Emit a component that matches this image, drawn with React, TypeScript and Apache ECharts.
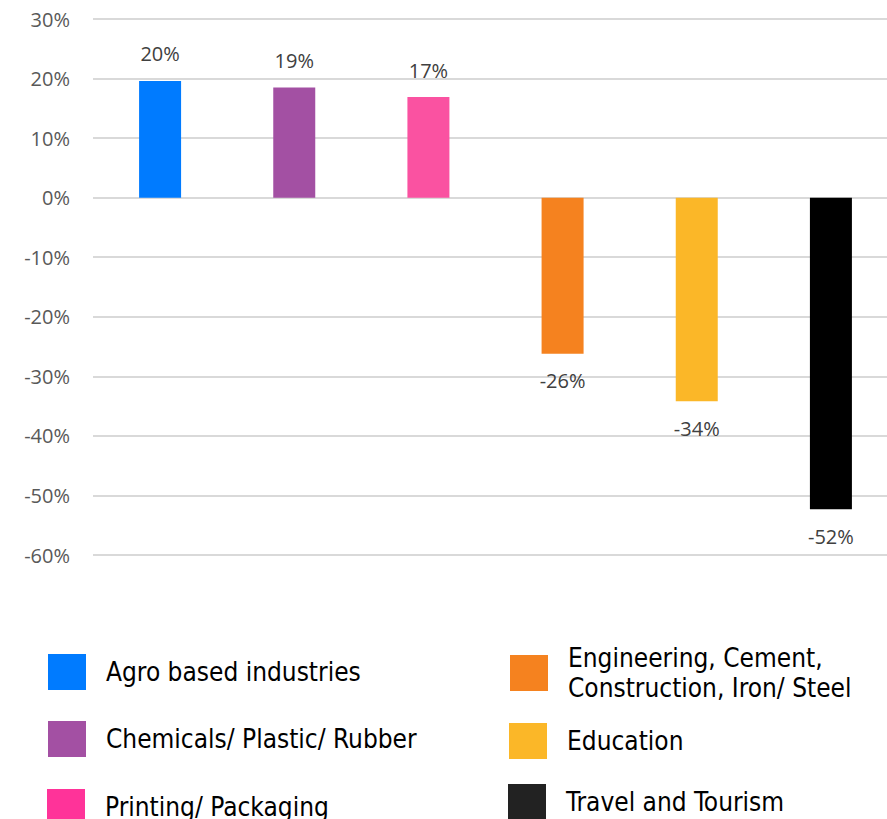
import React, { useEffect, useRef } from "react";
import * as echarts from "echarts";

const categories = [
  "Agro based industries",
  "Chemicals/ Plastic/ Rubber",
  "Printing/ Packaging",
  "Engineering, Cement,\nConstruction, Iron/ Steel",
  "Education",
  "Travel and Tourism",
];
const values = [19.6, 18.5, 16.9, -26.2, -34.2, -52.3];
const barColors = ["#007BFF", "#A350A3", "#FA52A1", "#F5821F", "#FBB728", "#000000"];
const legendColors = ["#007BFF", "#A350A3", "#FF3399", "#F5821F", "#FBB728", "#222222"];
const yTicks = { min: -60, max: 30, interval: 10 };

// legend item placement (icon top-left) and text lift
const legendPos = [
  { left: 48, top: 654, lift: 0 },
  { left: 48, top: 720, lift: 4 },
  { left: 47, top: 789, lift: 2 },
  { left: 510, top: 643, lift: 0 },
  { left: 509, top: 722, lift: 4 },
  { left: 508, top: 784, lift: 0 },
];

export default function App() {
  const ref = useRef<HTMLDivElement>(null);
  useEffect(() => {
    if (!ref.current) return;
    const chart = echarts.init(ref.current, undefined, { renderer: "svg" });
    const series = categories.map((name, i) => ({
      name,
      type: "bar",
      stack: "total",
      barWidth: 42,
      data: categories.map((_, j) => (j === i ? values[i] : "-")),
      itemStyle: { color: barColors[i] },
      label: {
        show: true,
        position: values[i] >= 0 ? "top" : "bottom",
        distance: 17,
        formatter: (p: any) => `${Math.round(p.value)}%`,
        fontFamily: "Open Sans",
        fontSize: 20,
        color: "#404040",
      },
    }));
    const legends = categories.map((name, i) => ({
      data: [{ name, itemStyle: { color: legendColors[i] } }],
      left: legendPos[i].left,
      top: legendPos[i].top,
      padding: 0,
      icon: "rect",
      itemWidth: 38,
      itemHeight: 36,
      selectedMode: false,
      textStyle: {
        fontFamily: "DejaVu Sans Condensed",
        fontSize: 26,
        lineHeight: 30,
        color: "#000000",
        padding: [0, 0, legendPos[i].lift * 2, 15],
      },
    }));
    chart.setOption({
      animation: false,
      backgroundColor: "#ffffff",
      grid: {
        left: 93,
        top: 19,
        width: 805,
        height: 536,
        outerBoundsMode: "none",
        containLabel: false,
      },
      legend: legends,
      xAxis: {
        type: "category",
        data: categories,
        axisLine: { show: false },
        axisTick: { show: false },
        axisLabel: { show: false },
      },
      yAxis: {
        type: "value",
        min: yTicks.min,
        max: yTicks.max,
        interval: yTicks.interval,
        axisLine: { show: false },
        axisTick: { show: false },
        splitLine: { lineStyle: { color: "#D9D9D9", width: 2 } },
        axisLabel: {
          formatter: (v: number) => `${v}%`,
          fontFamily: "Open Sans",
          fontSize: 20,
          color: "#595959",
          margin: 23,
        },
      },
      series,
    });
    return () => chart.dispose();
  }, []);
  return (
    <div
      ref={ref}
      style={{ position: "absolute", left: 0, top: 0, width: 887, height: 819 }}
    />
  );
}
